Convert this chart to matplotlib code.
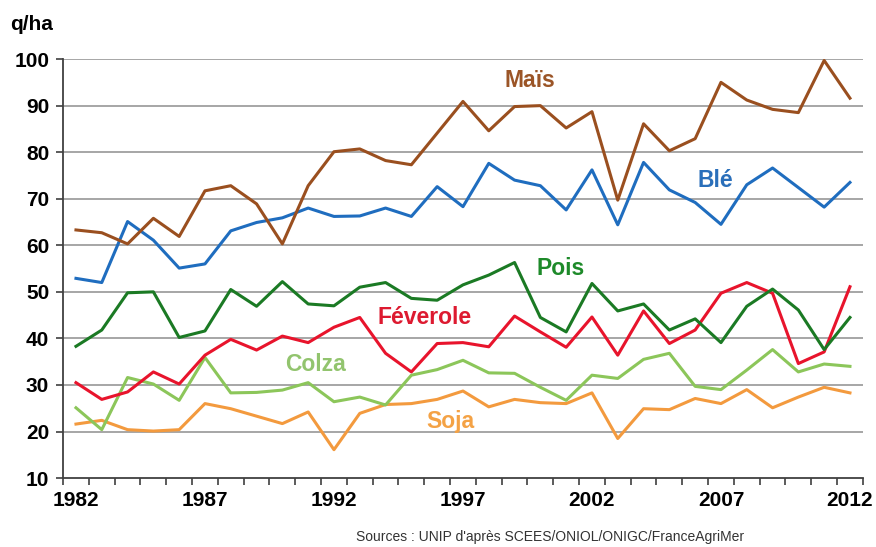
import numpy as np
import matplotlib.pyplot as plt
from matplotlib.ticker import FixedLocator

plt.rcParams['font.family'] = ['Liberation Sans', 'DejaVu Sans']

# yields in q/ha, 1982 -> 2012
years = np.arange(1982, 2013)
mais = [63.3, 62.7, 60.3, 65.8, 61.9, 71.7, 72.8, 68.9, 60.3, 72.8,
        80.1, 80.7, 78.2, 77.3, 84.1, 90.9, 84.6, 89.8, 90.0, 85.2,
        88.7, 69.7, 86.1, 80.3, 82.9, 95.0, 91.2, 89.2, 88.5, 99.7, 91.6]
ble = [52.9, 52.0, 65.1, 61.1, 55.1, 56.0, 63.1, 64.9, 65.9, 68.0,
       66.2, 66.3, 68.0, 66.2, 72.6, 68.3, 77.6, 74.0, 72.8, 67.6,
       76.2, 64.4, 77.8, 71.9, 69.2, 64.5, 73.0, 76.6, 72.4, 68.2, 73.5]
pois = [38.3, 41.8, 49.8, 50.0, 40.2, 41.6, 50.5, 46.9, 52.2, 47.4,
        47.0, 51.0, 52.0, 48.6, 48.2, 51.5, 53.6, 56.3, 44.5, 41.4,
        51.8, 45.9, 47.4, 41.8, 44.2, 39.1, 46.9, 50.6, 46.1, 37.6, 44.5]
feverole = [30.5, 26.9, 28.5, 32.8, 30.2, 36.4, 39.8, 37.5, 40.5, 39.1,
            42.4, 44.5, 36.8, 32.8, 38.9, 39.1, 38.2, 44.8, 41.4, 38.1,
            44.6, 36.4, 45.9, 38.9, 41.8, 49.7, 52.0, 49.7, 34.6, 37.1, 51.1]
colza = [25.1, 20.4, 31.6, 30.2, 26.7, 35.9, 28.3, 28.4, 28.9, 30.5,
         26.4, 27.4, 25.7, 32.1, 33.3, 35.3, 32.6, 32.5, 29.5, 26.7,
         32.1, 31.4, 35.5, 36.8, 29.7, 29.0, 33.2, 37.6, 32.8, 34.5, 34.0]
soja = [21.6, 22.4, 20.4, 20.1, 20.4, 26.0, 24.9, 23.3, 21.7, 24.2,
        16.1, 23.9, 25.8, 26.0, 26.9, 28.7, 25.3, 26.9, 26.2, 26.0,
        28.3, 18.5, 24.9, 24.7, 27.1, 26.0, 29.0, 25.1, 27.4, 29.5, 28.3]

names = ['Maïs', 'Blé', 'Pois', 'Féverole', 'Colza', 'Soja']
series = [mais, ble, pois, feverole, colza, soja]
line_colors = ['#9a4f1f', '#1f6dbf', '#1b7a24', '#e8142c', '#8cc65a', '#f39a3e']
text_colors = ['#9b5527', '#2a6fba', '#1e8a2a', '#dd1a30', '#92c46e', '#f4a245']
label_pos = [(1999.6, 95.5), (2006.8, 74.0), (2000.8, 55.1),
             (1995.5, 44.4), (1991.3, 34.3), (1996.5, 22.2)]

fig = plt.figure(figsize=(8.76, 5.47), dpi=100)
ax = fig.add_axes([0.072, 0.126, 0.913, 0.766])

# gridlines
for v in range(20, 101, 10):
    ax.axhline(v, color='#a6a6a6', lw=1.4, zorder=1)

# lines (drawn in reverse so Maïs/Blé end up on top)
for vals, c in list(zip(series, line_colors))[::-1]:
    ax.plot(years, vals, color=c, lw=2.2, zorder=3)

for name, (x, y), c in zip(names, label_pos, text_colors):
    ax.text(x, y, name, color=c, fontsize=16.5, fontweight='bold',
            ha='center', va='center', zorder=4)

ax.set_xlim(1981.5, 2012.5)
ax.set_ylim(10, 100)

ax.set_xticks(years[::5])
ax.set_xticklabels([str(y) for y in years[::5]], fontsize=15, fontweight='bold')
ax.xaxis.set_minor_locator(FixedLocator(np.arange(1981.5, 2013, 1)))
ax.tick_params(axis='x', which='major', length=0, pad=9)
ax.tick_params(axis='x', which='minor', length=5, width=1.2, color='#404040', direction='out')

ax.set_yticks(range(10, 101, 10))
ax.set_yticklabels([str(v) for v in range(10, 101, 10)], fontsize=15, fontweight='bold')
ax.tick_params(axis='y', length=5, width=1.2, color='#404040', pad=5)

for s in ['top', 'right']:
    ax.spines[s].set_visible(False)
for s in ['left', 'bottom']:
    ax.spines[s].set_color('#404040')
    ax.spines[s].set_linewidth(1.3)

fig.text(0.011, 0.955, 'q/ha', fontsize=15, fontweight='bold', ha='left', va='center')
fig.text(0.628, 0.018, "Sources : UNIP d'après SCEES/ONIOL/ONIGC/FranceAgriMer",
         fontsize=10, color='#333333', ha='center', va='center')

fig.savefig('out.png', dpi=100)
